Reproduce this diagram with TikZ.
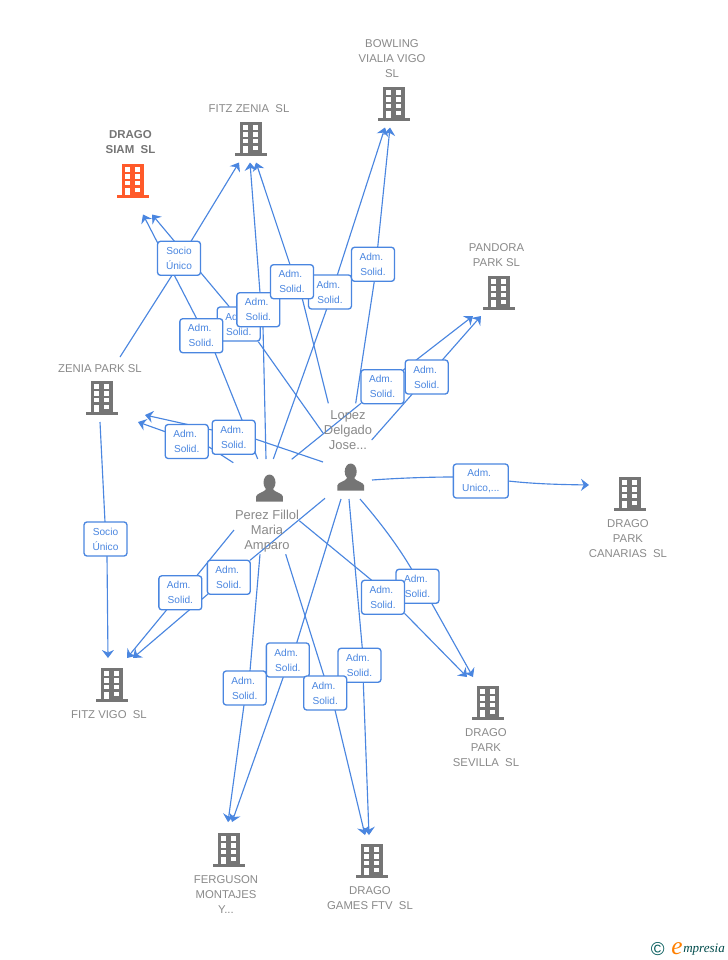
\documentclass[tikz,border=0pt]{standalone}
\usepackage{fontspec}
\setmainfont{Liberation Sans}
\newfontfamily\logofont{Liberation Serif}
\usetikzlibrary{arrows.meta}
\pgfdeclarelayer{back}
\pgfsetlayers{back,main}
\definecolor{linkblue}{HTML}{4A86E0}
\definecolor{labgray}{HTML}{8A8A8A}
\definecolor{icongray}{HTML}{757575}
\definecolor{iconorange}{HTML}{FF5A2A}
\tikzset{
  link/.style={draw=linkblue,line width=0.85pt},
  linkto/.style={link,-{Stealth[length=6pt,width=9pt,inset=2pt]}},
  rel/.style={draw=linkblue,line width=1pt,rounded corners=2.2pt,fill=white,text=linkblue,
    minimum width=32.2pt,minimum height=25.5pt,inner sep=0pt,align=center,
    font=\fontsize{7.6}{11.25}\selectfont},
  relwide/.style={rel,minimum width=41.2pt},
  bldlabel/.style={text=labgray,align=center,inner sep=0pt,font=\fontsize{8.5}{11.25}\selectfont},
  sellabel/.style={bldlabel,text=icongray,font=\fontsize{8.6}{11.25}\selectfont\bfseries},
  wholabel/.style={text=labgray,align=center,inner sep=0pt,font=\fontsize{9.7}{11.25}\selectfont},
  pics/building/.style={code={
    \fill[#1] (-11.2,-16.8) rectangle (11.2,13.8);
    \fill[#1] (-15.8,13.8) rectangle (15.8,16.8);
    \foreach \wx in {-7.6,2.4}{\foreach \wy in {-13.6,-6.9,-0.2}{
      \fill[white] (\wx,\wy) rectangle ++(5,4.6);}}
    \fill[white] (2.4,6.5) rectangle ++(5,4.6);
    \fill[white] (-7.6,6.5) rectangle ++(5,7.3);
  }},
  pics/person/.style={code={
    \fill[icongray] (0,-5.5) ellipse (6 and 8);
    \fill[icongray] (-13.4,13.7) -- (-13.4,8.5) .. controls (-13,5) and (-5,4.5) .. (-3.5,1)
      -- (3.5,1) .. controls (5,4.5) and (13,5) .. (13.4,8.5) -- (13.4,13.7) -- cycle;
  }}
}
\begin{document}
\begin{tikzpicture}[x=0.75pt,y=-0.75pt]
\useasboundingbox (0,0) rectangle (728,960);
\begin{pgfonlayer}{back}
\fill[white] (0,0) rectangle (728,960);
\end{pgfonlayer}
% buildings
\coordinate (siam) at (132.7,181); \pic at (siam) {building=iconorange};
\coordinate (fzenia) at (251,139); \pic at (fzenia) {building=icongray};
\coordinate (bowling) at (394,104); \pic at (bowling) {building=icongray};
\coordinate (pandora) at (499,293); \pic at (pandora) {building=icongray};
\coordinate (zpark) at (102,398); \pic at (zpark) {building=icongray};
\coordinate (canarias) at (630,494); \pic at (canarias) {building=icongray};
\coordinate (fvigo) at (112,685); \pic at (fvigo) {building=icongray};
\coordinate (sevilla) at (488,703); \pic at (sevilla) {building=icongray};
\coordinate (ferguson) at (229,850); \pic at (ferguson) {building=icongray};
\coordinate (games) at (372,861); \pic at (games) {building=icongray};
% persons
\coordinate (perez) at (269.5,488); \pic at (perez) {person};
\coordinate (lopez) at (350.7,477); \pic at (lopez) {person};
% texts
\node[sellabel] (tsiam) at (130.5,142.5) {DRAGO\\SIAM\ \ SL};
\node[bldlabel] (tfz) at (249,108.5) {FITZ ZENIA\ \ SL};
\node[bldlabel] (tbow) at (392,58.5) {BOWLING\\VIALIA VIGO\\SL};
\node[bldlabel] (tpan) at (496.5,255) {PANDORA\\PARK SL};
\node[bldlabel] (tzp) at (100,368.5) {ZENIA PARK SL};
\node[bldlabel] (tcan) at (628,538.5) {DRAGO\\PARK\\CANARIAS\ \ SL};
\node[bldlabel] (tfv) at (109,714.5) {FITZ VIGO\ \ SL};
\node[bldlabel] (tsev) at (486,747.5) {DRAGO\\PARK\\SEVILLA\ \ SL};
\node[bldlabel] (tfer) at (226,894.5) {FERGUSON\\MONTAJES\\Y...};
\node[bldlabel] (tgam) at (370,898) {DRAGO\\GAMES FTV\ \ SL};
\node[wholabel] (tper) at (267,531.5) {Perez Fillol\\Maria\\Amparo};
\node[wholabel] (tlop) at (348,430.5) {Lopez\\Delgado\\Jose...};
% relation boxes
\newcommand{\adm}{Adm.\kern2.4pt\\Solid.}
\node[rel] (bs) at (179,258.3) {Socio\\Único};
\node[rel] (bv) at (105.5,539) {Socio\\Único};
\node[rel] (b238) at (238.7,324) {\adm};
\node[rel] (b201) at (201.3,335.7) {\adm};
\node[rel] (b258) at (258.3,309.7) {\adm};
\node[rel] (b330) at (330,292) {\adm};
\node[rel] (b291) at (292,281.7) {\adm};
\node[rel] (b373) at (373,264.3) {\adm};
\node[rel] (b382) at (382.5,386.7) {\adm};
\node[rel] (b426) at (426.7,377) {\adm};
\node[rel] (b187) at (186.7,441.5) {\adm};
\node[rel] (b233) at (233.7,437.3) {\adm};
\node[relwide] (bu) at (480.8,481) {Adm.\kern2.4pt\\Unico,...};
\node[rel] (b417) at (417.5,586.3) {\adm};
\node[rel] (b383) at (383,597.3) {\adm};
\node[rel] (b229) at (228.8,577.3) {\adm};
\node[rel] (b180) at (180.3,592.8) {\adm};
\node[rel] (b287) at (287.8,660) {\adm};
\node[rel] (b245) at (244.7,688) {\adm};
\node[rel] (b359) at (359.5,665.3) {\adm};
\node[rel] (b325) at (325.2,693) {\adm};
% logo
\node[inner sep=0pt,text=teal!70!black,font=\fontsize{14}{14}\selectfont] (lc) at (657.8,949) {©};
\node[inner sep=0pt,text=orange,font=\logofont\itshape\fontsize{19}{19}\selectfont] (le) at (677,948.5) {e};
\node[inner sep=0pt,anchor=west,text=teal!60!black,font=\logofont\itshape\fontsize{9.8}{11}\selectfont] (lm) at (683,950) {mpresia};
% free ends of connectors
\coordinate (s1) at (257.7,459); \coordinate (e1) at (143,214.5);
\coordinate (s2) at (323,433); \coordinate (e2) at (152,214.5);
\coordinate (s3) at (266,459); \coordinate (e3) at (250,162.5);
\coordinate (s4) at (328.3,403.3); \coordinate (e4) at (256,162.5);
\coordinate (s5) at (273.3,459); \coordinate (e5) at (385,127.5);
\coordinate (s6) at (355.7,403.3); \coordinate (e6) at (390,127.5);
\coordinate (s7) at (291.7,459.3); \coordinate (e7) at (473,316);
\coordinate (s8) at (371.7,440); \coordinate (e8) at (481,316);
\coordinate (s9) at (233.3,462.7); \coordinate (e9) at (138,422);
\coordinate (s10) at (323,462); \coordinate (e10) at (145,415);
\coordinate (s11) at (372,480); \coordinate (e11) at (589,485);
\coordinate (s12) at (360,499); \coordinate (e12) at (473,677);
\coordinate (s13) at (299.3,520.7); \coordinate (e13) at (467,677);
\coordinate (s14) at (325,498.3); \coordinate (e14) at (133,658);
\coordinate (s15) at (234,530); \coordinate (e15) at (127,658);
\coordinate (s16) at (341,499); \coordinate (e16) at (232,822);
\coordinate (s17) at (260,554.3); \coordinate (e17) at (228,822);
\coordinate (s18) at (285.7,554.3); \coordinate (e18) at (365,835);
\coordinate (s19) at (349,499); \coordinate (e19) at (369,835);
\coordinate (s20) at (120,357); \coordinate (e20) at (239,162.5);
\coordinate (s21) at (100,422); \coordinate (e21) at (108,658);
% connectors, behind the boxes
\begin{pgfonlayer}{back}
\draw[link] (s1) -- ([shift={(13.7,17)}]b201.center);
\draw[linkto] ([shift={(-4.6,-17)}]b201.center) -- (e1);
\draw[link] (s2) -- ([shift={(19.6,17.7)}]b238.center);
\draw[linkto] ([shift={(-9.4,-17.3)}]b238.center) -- (e2);
\draw[link] (s3) -- ([shift={(4.7,17)}]b258.center);
\draw[linkto] ([shift={(1.7,-17)}]b258.center) -- (e3);
\draw[link] (s4) -- ([shift={(10.3,17)}]b291.center);
\draw[linkto] ([shift={(-2,-17)}]b291.center) -- (e4);
\draw[link] (s5) -- ([shift={(-3.3,17)}]b330.center);
\draw[linkto] ([shift={(7.3,-17)}]b330.center) -- (e5);
\draw[link] (s6) -- ([shift={(1.3,17)}]b373.center);
\draw[linkto] ([shift={(4.7,-17)}]b373.center) -- (e6);
\draw[link] (s7) -- ([shift={(-21.5,16.6)}]b382.center);
\draw[linkto] ([shift={(20.8,-16.7)}]b382.center) -- (e7);
\draw[link] (s8) -- ([shift={(-14.4,17)}]b426.center);
\draw[linkto] ([shift={(15.6,-17)}]b426.center) -- (e8);
\draw[link] (s9) -- ([shift={(21.5,5)}]b187.center);
\draw[linkto] ([shift={(-21.5,-9.8)}]b187.center) -- (e9);
\draw[link] (s10) -- ([shift={(21.5,1.7)}]b233.center);
\draw[linkto] ([shift={(-21.5,-7.3)}]b233.center) -- (e10);
\draw[link] (s11) .. controls (400,478) and (430,477) .. ([shift={(-27.5,-4)}]bu.center);
\draw[linkto] ([shift={(27.5,0)}]bu.center) .. controls (535,484) and (560,484.5) .. (e11);
\draw[link] (s12) .. controls (380,522) and (398,546) .. ([shift={(-5.8,-17)}]b417.center);
\draw[linkto] ([shift={(14.2,17)}]b417.center) -- (e12);
\draw[link] (s13) -- ([shift={(-11.3,-17)}]b383.center);
\draw[linkto] ([shift={(21.5,16)}]b383.center) -- (e13);
\draw[link] (s14) -- ([shift={(21.2,-17)}]b229.center);
\draw[linkto] ([shift={(-20.8,16.7)}]b229.center) -- (e14);
\draw[link] (s15) -- ([shift={(16.4,-17)}]b180.center);
\draw[linkto] ([shift={(-13.6,17)}]b180.center) -- (e15);
\draw[link] (s16) -- ([shift={(8.9,-17)}]b287.center);
\draw[linkto] ([shift={(-4.5,17)}]b287.center) -- (e16);
\draw[link] (s17) -- ([shift={(5.3,-17)}]b245.center);
\draw[linkto] ([shift={(-0.7,17)}]b245.center) -- (e17);
\draw[link] (s18) -- ([shift={(-1.2,-17)}]b325.center);
\draw[linkto] ([shift={(9.8,17)}]b325.center) -- (e18);
\draw[link] (s19) -- ([shift={(2.8,-17)}]b359.center);
\draw[linkto] ([shift={(3.8,17)}]b359.center) -- (e19);
\draw[link] (s20) -- ([shift={(-7,17)}]bs.center);
\draw[linkto] ([shift={(12,-17)}]bs.center) -- (e20);
\draw[link] (s21) -- ([shift={(-0.5,-17)}]bv.center);
\draw[linkto] ([shift={(1.5,17)}]bv.center) -- (e21);
\end{pgfonlayer}
\end{tikzpicture}
\end{document}
